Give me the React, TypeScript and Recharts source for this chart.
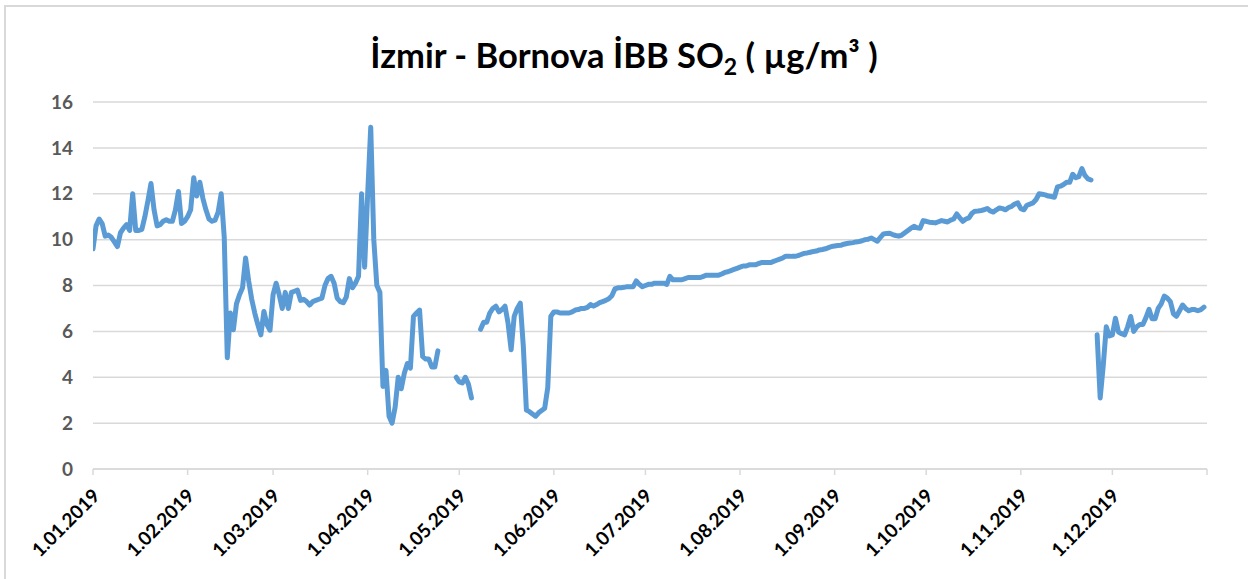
import React from 'react';
import { LineChart, Line, XAxis, YAxis, CartesianGrid } from 'recharts';

// daily SO2 values, day 0 = 1 Jan 2019 (null = no measurement)
const so2: (number | null)[] = [
  9.6, 10.6, 10.9, 10.7, 10.15, 10.2, 10.1, 9.9, 9.7, 10.3,
  10.5, 10.65, 10.4, 12.0, 10.4, 10.4, 10.45, 11.0, 11.7, 12.45,
  11.3, 10.6, 10.65, 10.8, 10.87, 10.8, 10.8, 11.3, 12.1, 10.7,
  10.8, 11.0, 11.3, 12.7, 11.9, 12.5, 11.8, 11.3, 10.9, 10.8,
  10.85, 11.2, 12.0, 10.1, 4.85, 6.8, 6.07, 7.2, 7.6, 7.9,
  9.2, 8.2, 7.4, 6.8, 6.3, 5.85, 6.87, 6.3, 6.05, 7.6,
  8.1, 7.6, 7.0, 7.7, 7.0, 7.7, 7.75, 7.8, 7.35, 7.4,
  7.3, 7.15, 7.3, 7.35, 7.4, 7.45, 8.0, 8.3, 8.4, 8.1,
  7.45, 7.3, 7.25, 7.5, 8.3, 7.9, 8.1, 8.4, 12.0, 8.8,
  12.0, 14.9, 10.0, 8.0, 7.7, 3.6, 4.3, 2.3, 2.0, 2.7,
  4.0, 3.5, 4.17, 4.6, 4.4, 6.65, 6.8, 6.93, 4.9, 4.8,
  4.8, 4.45, 4.45, 5.15, null, null, null, null, null, 4.0,
  3.8, 3.75, 4.0, 3.7, 3.1, null, null, 6.09, 6.4, 6.4,
  6.8, 7.0, 7.1, 6.85, 6.95, 7.1, 6.35, 5.2, 6.65, 7.0,
  7.23, 5.33, 2.57, 2.5, 2.4, 2.3, 2.45, 2.55, 2.65, 3.55,
  6.65, 6.85, 6.85, 6.8, 6.8, 6.8, 6.8, 6.85, 6.93, 6.95,
  7.0, 7.0, 7.05, 7.17, 7.1, 7.17, 7.25, 7.3, 7.35, 7.42,
  7.55, 7.85, 7.9, 7.9, 7.92, 7.95, 7.95, 7.95, 8.2, 8.05,
  7.95, 8.0, 8.05, 8.05, 8.1, 8.1, 8.1, 8.1, 8.05, 8.4,
  8.25, 8.25, 8.25, 8.25, 8.3, 8.35, 8.35, 8.35, 8.35, 8.35,
  8.4, 8.45, 8.45, 8.45, 8.45, 8.45, 8.5, 8.57, 8.6, 8.65,
  8.7, 8.75, 8.8, 8.85, 8.85, 8.9, 8.9, 8.9, 8.95, 9.0,
  9.0, 9.0, 9.0, 9.05, 9.1, 9.15, 9.2, 9.28, 9.28, 9.27,
  9.27, 9.3, 9.35, 9.4, 9.42, 9.45, 9.48, 9.5, 9.55, 9.57,
  9.6, 9.65, 9.7, 9.72, 9.74, 9.75, 9.8, 9.83, 9.85, 9.87,
  9.9, 9.92, 9.95, 10.0, 10.02, 10.07, 10.0, 9.93, 10.1, 10.25,
  10.27, 10.28, 10.22, 10.18, 10.15, 10.2, 10.3, 10.4, 10.5, 10.58,
  10.52, 10.5, 10.83, 10.8, 10.76, 10.75, 10.73, 10.78, 10.83, 10.8,
  10.77, 10.85, 10.9, 11.12, 10.95, 10.8, 10.9, 10.95, 11.15, 11.24,
  11.25, 11.27, 11.3, 11.36, 11.25, 11.2, 11.3, 11.38, 11.35, 11.3,
  11.4, 11.45, 11.55, 11.6, 11.35, 11.3, 11.5, 11.55, 11.6, 11.75,
  12.0, 11.98, 11.95, 11.9, 11.88, 11.85, 12.3, 12.33, 12.4, 12.5,
  12.5, 12.85, 12.7, 12.75, 13.1, 12.8, 12.65, 12.6, null, 5.85,
  3.1, 4.5, 6.2, 5.8, 5.85, 6.57, 5.97, 5.9, 5.85, 6.2,
  6.65, 6.0, 6.2, 6.3, 6.3, 6.6, 6.96, 6.55, 6.55, 7.0,
  7.2, 7.54, 7.45, 7.3, 6.77, 6.66, 6.9, 7.15, 7.0, 6.9,
  6.95, 6.95, 6.9, 6.95, 7.06,
];

const monthStarts = [0, 31, 59, 90, 120, 151, 181, 212, 243, 273, 304, 334, 365];
const monthLabels = [
  '1.01.2019', '1.02.2019', '1.03.2019', '1.04.2019', '1.05.2019', '1.06.2019',
  '1.07.2019', '1.08.2019', '1.09.2019', '1.10.2019', '1.11.2019', '1.12.2019', '',
];
const yTicks = [0, 2, 4, 6, 8, 10, 12, 14, 16];

const data = so2.map((v, i) => ({ day: i, so2: v }));

const FONT = 'Lato, "Open Sans", sans-serif';

const DateTick = (props: any) => {
  const { x, y, payload } = props;
  const idx = monthStarts.indexOf(payload.value);
  const label = idx >= 0 ? monthLabels[idx] : '';
  return (
    <g transform={`translate(${x + 8},${y + 20})`}>
      <text
        textAnchor="end"
        transform="rotate(-45)"
        fontSize={19}
        fontWeight={700}
        fill="#000"
        fontFamily={FONT}
      >
        {label}
      </text>
    </g>
  );
};

export default function App() {
  return (
    <div style={{ position: 'fixed', left: 0, top: 0, width: 1248, height: 579, overflow: 'hidden', background: '#fff' }}>
      <div style={{ position: 'absolute', left: 4, top: 5, width: 1260, height: 600, border: '2px solid #d9d9d9' }} />
      <div
        style={{
          position: 'absolute', left: 0, top: 33, width: 1248, textAlign: 'center',
          fontFamily: FONT, fontWeight: 700, fontSize: 34.5, color: '#000', lineHeight: '44px',
        }}
      >
        İzmir - Bornova İBB SO<sub style={{ fontSize: 23, verticalAlign: -7 }}>2</sub> ( µg/m³ )
      </div>
      <div style={{ position: 'absolute', left: 0, top: 0 }}>
        <LineChart width={1248} height={579} data={data} margin={{ top: 102, right: 41, bottom: 80, left: 0 }}>
          <CartesianGrid vertical={false} stroke="#d9d9d9" strokeWidth={1.5} />
          <XAxis
            dataKey="day"
            type="number"
            domain={[0, 365]}
            ticks={monthStarts}
            interval={0}
            height={30}
            stroke="#d9d9d9"
            strokeWidth={1.5}
            tickSize={6}
            tick={<DateTick />}
            allowDataOverflow
          />
          <YAxis
            domain={[0, 16]}
            ticks={yTicks}
            width={93}
            axisLine={false}
            tickLine={false}
            tickSize={0}
            tickMargin={20}
            tick={{ fontSize: 19, fontWeight: 700, fill: '#595959', fontFamily: FONT }}
          />
          <Line
            type="linear"
            dataKey="so2"
            stroke="#5b9bd5"
            strokeWidth={5}
            dot={false}
            activeDot={false}
            connectNulls={false}
            strokeLinejoin="round"
            strokeLinecap="round"
            isAnimationActive={false}
          />
        </LineChart>
      </div>
    </div>
  );
}
